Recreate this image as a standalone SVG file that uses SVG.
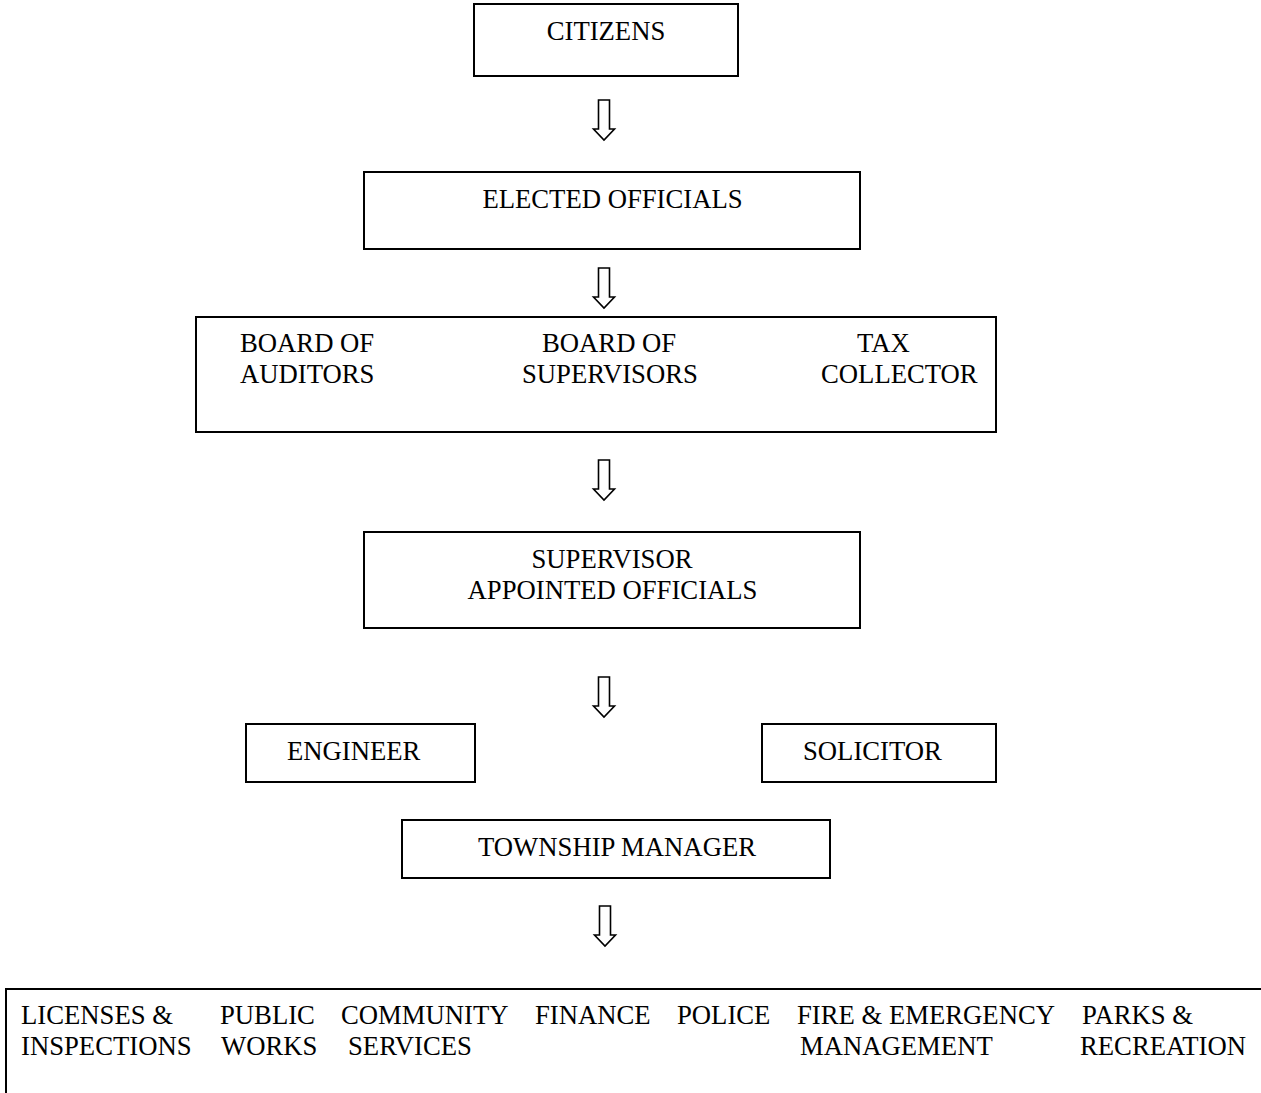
<svg xmlns="http://www.w3.org/2000/svg" width="1261" height="1093" viewBox="0 0 1261 1093">
<style>
.box{fill:#fff;stroke:#000;stroke-width:2}
.t{font-family:"Liberation Serif","Times New Roman",serif;font-size:26.7px;fill:#000}
.c{text-anchor:middle}
.arr{fill:#fff;stroke:#000;stroke-width:1.6;stroke-linejoin:miter}
</style>
<defs>
<path id="dn" d="M-5.5,0 V29 H-10.5 L0,40 L10.5,29 H5.5 V0 Z"/>
</defs>
<rect width="1261" height="1093" fill="#fff"/>
<g id="connectors">
<use href="#dn" class="arr" x="604" y="100"/>
<use href="#dn" class="arr" x="604" y="268"/>
<use href="#dn" class="arr" x="604" y="460"/>
<use href="#dn" class="arr" x="604" y="677"/>
<use href="#dn" class="arr" x="605" y="906"/>
</g>
<g id="citizens">
<rect class="box" x="474" y="4" width="264" height="72"/>
<text class="t c" x="606" y="40">CITIZENS</text>
</g>
<g id="elected-officials">
<rect class="box" x="364" y="172" width="496" height="77"/>
<text class="t c" x="612.5" y="208">ELECTED OFFICIALS</text>
</g>
<g id="boards">
<rect class="box" x="196" y="317" width="800" height="115"/>
<text class="t" x="240" y="352">BOARD OF</text>
<text class="t" x="240" y="383">AUDITORS</text>
<text class="t" x="542" y="352">BOARD OF</text>
<text class="t" x="522" y="383">SUPERVISORS</text>
<text class="t" x="857" y="352">TAX</text>
<text class="t" x="821" y="383">COLLECTOR</text>
</g>
<g id="supervisor-appointed">
<rect class="box" x="364" y="532" width="496" height="96"/>
<text class="t c" x="612" y="568">SUPERVISOR</text>
<text class="t c" x="612.5" y="599">APPOINTED OFFICIALS</text>
</g>
<g id="engineer">
<rect class="box" x="246" y="724" width="229" height="58"/>
<text class="t" x="287" y="760">ENGINEER</text>
</g>
<g id="solicitor">
<rect class="box" x="762" y="724" width="234" height="58"/>
<text class="t" x="803" y="760">SOLICITOR</text>
</g>
<g id="township-manager">
<rect class="box" x="402" y="820" width="428" height="58"/>
<text class="t" x="478" y="856">TOWNSHIP MANAGER</text>
</g>
<g id="departments">
<path d="M6,1100 V989 H1265" fill="none" stroke="#000" stroke-width="2"/>
<text class="t" x="21" y="1024">LICENSES &amp;</text>
<text class="t" x="21" y="1055">INSPECTIONS</text>
<text class="t" x="220" y="1024">PUBLIC</text>
<text class="t" x="221" y="1055">WORKS</text>
<text class="t" x="341" y="1024">COMMUNITY</text>
<text class="t" x="348" y="1055">SERVICES</text>
<text class="t" x="535" y="1024">FINANCE</text>
<text class="t" x="677" y="1024">POLICE</text>
<text class="t" x="797" y="1024">FIRE &amp; EMERGENCY</text>
<text class="t" x="800" y="1055">MANAGEMENT</text>
<text class="t" x="1082" y="1024">PARKS &amp;</text>
<text class="t" x="1080" y="1055">RECREATION</text>
</g>
</svg>
